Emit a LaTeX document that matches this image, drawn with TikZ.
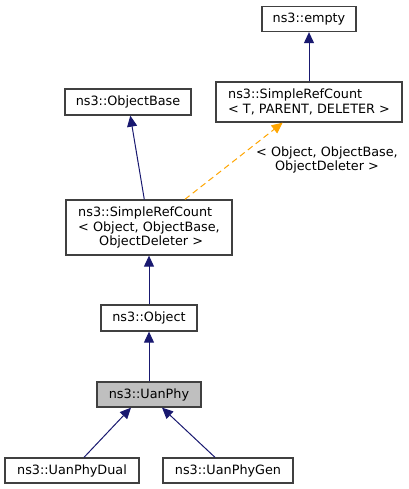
\documentclass[tikz,border=0pt]{standalone}
\usepackage{fontspec}
\setmainfont{DejaVu Sans}
\usetikzlibrary{arrows.meta}
\definecolor{edgeblue}{HTML}{191970}
\definecolor{edgeorange}{HTML}{FFA500}
\begin{document}
\begin{tikzpicture}[x=1pt, y=-1pt,
	cls/.style={draw=black!75, line width=1.3pt, inner sep=0pt, fill=white,
		font=\fontsize{12.8}{14.8}\selectfont, align=left},
	inh/.style={edgeblue, line width=1pt, -{Triangle[length=11pt,width=10pt]}},
	tmpl/.style={edgeorange, line width=1pt, dash pattern=on 6pt off 4pt, -{Triangle[length=11pt,width=10pt]}}]
	\useasboundingbox (0,0) rectangle (408,489);

	%\draw (0,0) grid (408,489);
	\node[cls, minimum width=94pt, minimum height=25pt] (empty) at (309,19) {ns3::empty};
	\node[cls, minimum width=186pt, minimum height=40pt] (srcT) at (309,102) {ns3::SimpleRefCount\\< T, PARENT, DELETER >};
	\node[cls, minimum width=126pt, minimum height=26pt] (objbase) at (128,102) {ns3::ObjectBase};
	\node[cls, minimum width=166pt, minimum height=55pt] (srcObj) at (149,227.5) {ns3::SimpleRefCount\\< Object, ObjectBase,\\\hspace*{21pt}ObjectDeleter >};
	\node[cls, minimum width=96pt, minimum height=26pt] (object) at (149,318) {ns3::Object};
	\node[cls, fill=black!25, minimum width=104pt, minimum height=25pt] (uanphy) at (149,394.5) {ns3::UanPhy};
	\node[cls, minimum width=134pt, minimum height=25pt] (dual) at (72,470.5) {ns3::UanPhyDual};
	\node[cls, minimum width=130pt, minimum height=25pt] (gen) at (228,470.5) {ns3::UanPhyGen};

	\draw[inh] (srcT) -- (empty);
	\draw[inh] (srcObj) -- (objbase);
	\draw[tmpl] (srcObj) -- (srcT);
	\node[font=\fontsize{12.8}{14.8}\selectfont, align=center, inner sep=0pt] (lbl) at (327,160) {< Object, ObjectBase,\\ObjectDeleter >};
	\draw[inh] (object) -- (srcObj);
	\draw[inh] (uanphy) -- (object);
	\draw[inh] ([xshift=12pt]dual.north) -- ([xshift=-18pt]uanphy.south);
	\draw[inh] ([xshift=-13pt]gen.north) -- ([xshift=13pt]uanphy.south);
\end{tikzpicture}
\end{document}
